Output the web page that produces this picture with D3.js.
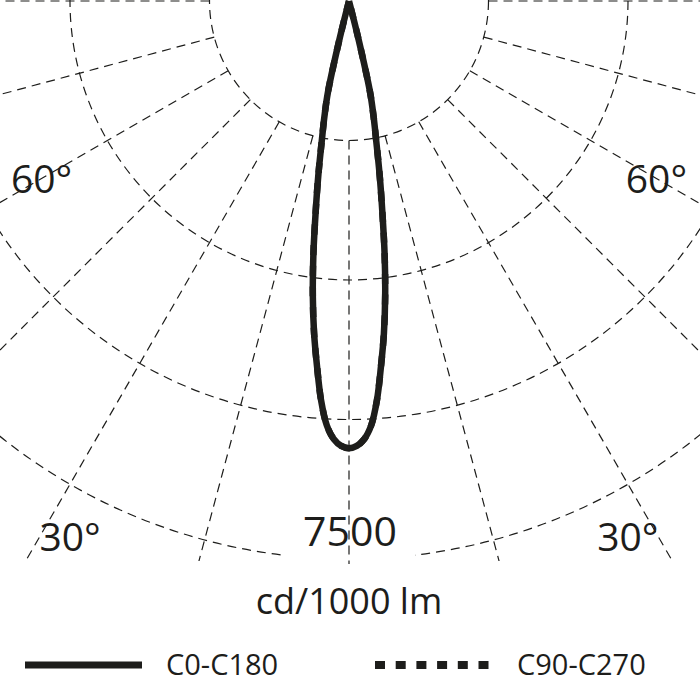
<!DOCTYPE html>
<html>
<head>
<meta charset="utf-8">
<script src="https://cdn.jsdelivr.net/npm/d3@7"></script>
<style>
  html, body { margin: 0; padding: 0; background: #fff; }
  svg { display: block; }
  text { font-family: "Open Sans", "Noto Sans", sans-serif; fill: #1d1d1b; }
</style>
</head>
<body>
<div id="chart"></div>
<script>
// Luminous intensity distribution, cd/1000 lm
const gammaAngles = [0, 1, 2, 3, 4, 5, 6, 7, 8, 9, 10, 11, 12, 13, 14, 15, 20, 30, 40, 50, 60, 70, 80, 90];
const c0c180 = [6010, 5980, 5890, 5710, 5380, 4930, 4490, 3990, 3440, 2860, 2370, 1920, 1590, 1260, 500, 0, 0, 0, 0, 0, 0, 0, 0, 0];
const c90c270 = [6010, 5980, 5890, 5710, 5380, 4930, 4490, 3990, 3440, 2860, 2370, 1920, 1590, 1260, 500, 0, 0, 0, 0, 0, 0, 0, 0, 0];

const ringValues = [1875, 3750, 5625, 7500];
const spokeAngles = [15, 30, 45, 60, 75, 90];
const angleLabels = [
    { text: "60°", angle: -60, r: 355 },
    { text: "60°", angle: 60, r: 355 },
    { text: "30°", angle: -27.5, r: 604 },
    { text: "30°", angle: 27.5, r: 604 }
];
const scaleLabel = "7500";
const unitLabel = "cd/1000 lm";
const legendItems = ["C0-C180", "C90-C270"];

const width = 700, height = 700;
const cx = 349, cy = 1;
const gridBottom = 561;
const ink = "#1d1d1b";

const r = d3.scaleLinear().domain([0, 7500]).range([0, 558]);
const rad = d => d * Math.PI / 180;

const svg = d3.select("#chart").append("svg")
    .attr("width", width)
    .attr("height", height);

svg.append("clipPath").attr("id", "grid-clip")
    .append("rect")
    .attr("x", 0).attr("y", 0)
    .attr("width", width).attr("height", gridBottom);

// clip sits on an untransformed wrapper so the rect is in page pixels
const grid = svg.append("g")
    .attr("clip-path", "url(#grid-clip)")
    .append("g")
    .attr("transform", `translate(${cx},${cy})`)
    .attr("fill", "none")
    .attr("stroke", ink)
    .attr("stroke-width", 1.2)
    .attr("stroke-dasharray", "9,6");

// rings
grid.selectAll(".ring")
    .data(ringValues)
    .join("circle")
    .attr("class", "ring")
    .attr("r", d => r(d));

// spokes, both sides, starting at the first ring
const spokes = spokeAngles.flatMap(a => [-a, a]);
const spokeLen = 900;
grid.selectAll(".spoke")
    .data(spokes)
    .join("line")
    .attr("class", "spoke")
    .attr("x1", d => r(ringValues[0]) * Math.sin(rad(d)))
    .attr("y1", d => r(ringValues[0]) * Math.cos(rad(d)))
    .attr("x2", d => spokeLen * Math.sin(rad(d)))
    .attr("y2", d => spokeLen * Math.cos(rad(d)));

// scale label with a blank behind it
const labelY = cy + r(7500) - 28;
svg.append("rect")
    .attr("x", cx - 66).attr("y", labelY - 26)
    .attr("width", 132).attr("height", gridBottom - labelY + 26)
    .attr("fill", "#fff");
svg.append("text")
    .attr("x", cx + 1).attr("y", labelY)
    .attr("dy", "0.36em")
    .attr("text-anchor", "middle")
    .attr("font-size", 41)
    .text(scaleLabel);

// 0 degree spoke on top of the label
svg.append("line")
    .attr("x1", cx).attr("y1", cy + r(ringValues[0]))
    .attr("x2", cx).attr("y2", gridBottom + 3)
    .attr("stroke", ink)
    .attr("stroke-width", 1.2)
    .attr("stroke-dasharray", "9,6");

// intensity curves, mirrored over the nadir line
const halfPlane = (values) => {
    const pts = gammaAngles.map((g, i) => ({ g: g, v: values[i] }));
    const left = pts.slice(1).reverse().map(p => ({ g: -p.g, v: p.v }));
    return left.concat(pts);
};

const radial = d3.lineRadial()
    .angle(d => Math.PI - rad(d.g))
    .radius(d => r(d.v))
    .curve(d3.curveCatmullRom.alpha(0.5));

const curves = svg.append("g").attr("transform", `translate(${cx},${cy})`);

curves.append("path")
    .datum(halfPlane(c90c270))
    .attr("d", radial)
    .attr("fill", "none")
    .attr("stroke", ink)
    .attr("stroke-width", 6.5)
    .attr("stroke-dasharray", "10,10.6");

curves.append("path")
    .datum(halfPlane(c0c180))
    .attr("d", radial)
    .attr("fill", "none")
    .attr("stroke", ink)
    .attr("stroke-width", 6.5)
    .attr("stroke-linejoin", "round");

// angle labels
svg.selectAll(".angle-label")
    .data(angleLabels)
    .join("text")
    .attr("class", "angle-label")
    .attr("x", d => cx + d.r * Math.sin(rad(d.angle)))
    .attr("y", d => cy + d.r * Math.cos(rad(d.angle)))
    .attr("dy", "0.36em")
    .attr("text-anchor", "middle")
    .attr("font-size", 39)
    .text(d => d.text);

// unit
svg.append("text")
    .attr("x", cx).attr("y", 614)
    .attr("text-anchor", "middle")
    .attr("font-size", 36)
    .text(unitLabel);

// legend
const legendY = 665;
const legend = svg.append("g");
legend.append("line")
    .attr("x1", 25).attr("x2", 142)
    .attr("y1", legendY).attr("y2", legendY)
    .attr("stroke", ink).attr("stroke-width", 7);
legend.append("line")
    .attr("x1", 375).attr("x2", 489)
    .attr("y1", legendY).attr("y2", legendY)
    .attr("stroke", ink).attr("stroke-width", 8)
    .attr("stroke-dasharray", "10,10.7");
legend.selectAll(".legend-label")
    .data(legendItems)
    .join("text")
    .attr("class", "legend-label")
    .attr("x", (d, i) => i === 0 ? 166 : 517)
    .attr("y", legendY)
    .attr("dy", "0.36em")
    .attr("font-size", 29)
    .text(d => d);
</script>
</body>
</html>
